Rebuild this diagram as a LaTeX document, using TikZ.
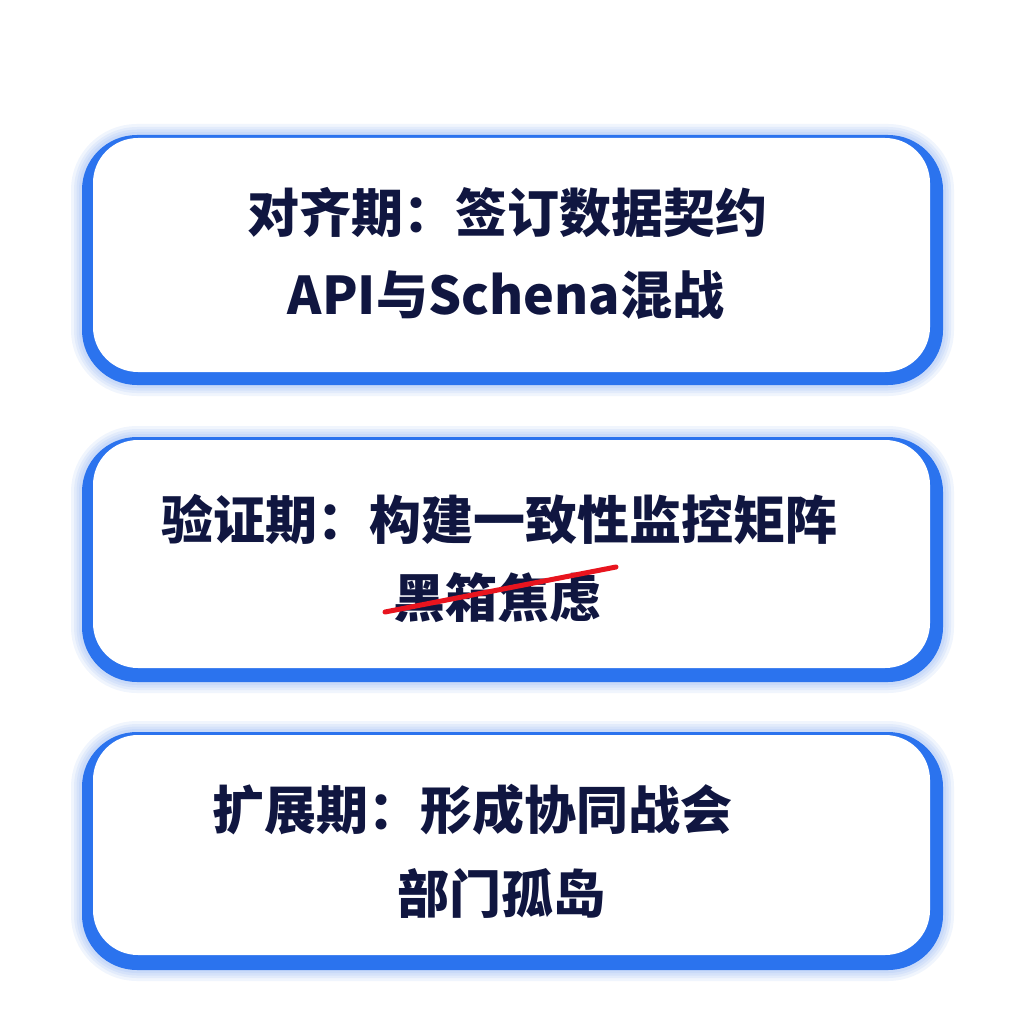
\documentclass[tikz,border=0pt]{standalone}
\usepackage{fontspec}
\setmainfont{Noto Sans CJK SC}
\definecolor{bblue}{HTML}{2B73EE}
\definecolor{navy}{HTML}{101640}
\definecolor{sred}{HTML}{E8141E}
\tikzset{
  glow/.style={draw=bblue, line width=#1, draw opacity=0.07, rounded corners=55pt},
  rim/.style={fill=bblue, rounded corners=55pt},
  face/.style={fill=white, rounded corners=45pt},
  lbl/.style={text=navy, font=\fontsize{52}{62}\selectfont\bfseries, inner sep=0pt, anchor=center},
  strike/.style={draw=sred, line width=5pt, line cap=round}
}
\begin{document}
\begin{tikzpicture}[x=1pt,y=-1pt]
\fill[white] (0,0) rectangle (1024,1024);
\useasboundingbox (0,0) rectangle (1024,1024);
\foreach \t/\b/\it/\ib in {135/385/138/372, 437/682/440/668, 732/970/735/955}{
  \foreach \w in {22,16,11,6}{\draw[glow=\w pt] (82,\t) rectangle (943,\b);}
  \fill[rim] (82,\t) rectangle (943,\b);
  \fill[face] (93,\it) rectangle (930,\ib);
}
\node[lbl] (a1) at (507,213) {对齐期：签订数据契约};
\node[lbl] (a2) at (506,295) {API与Schena混战};
\node[lbl] (b1) at (499,520) {验证期：构建一致性监控矩阵};
\node[lbl] (b2) at (497,598) {黑箱焦虑};
\node[lbl] (c1) at (472,810) {扩展期：形成协同战会};
\node[lbl] (c2) at (501,893) {部门孤岛};
\coordinate (s1) at (385,612);
\coordinate (s2) at (616,567);
\draw[strike] (s1) -- (s2);
\end{tikzpicture}
\end{document}
